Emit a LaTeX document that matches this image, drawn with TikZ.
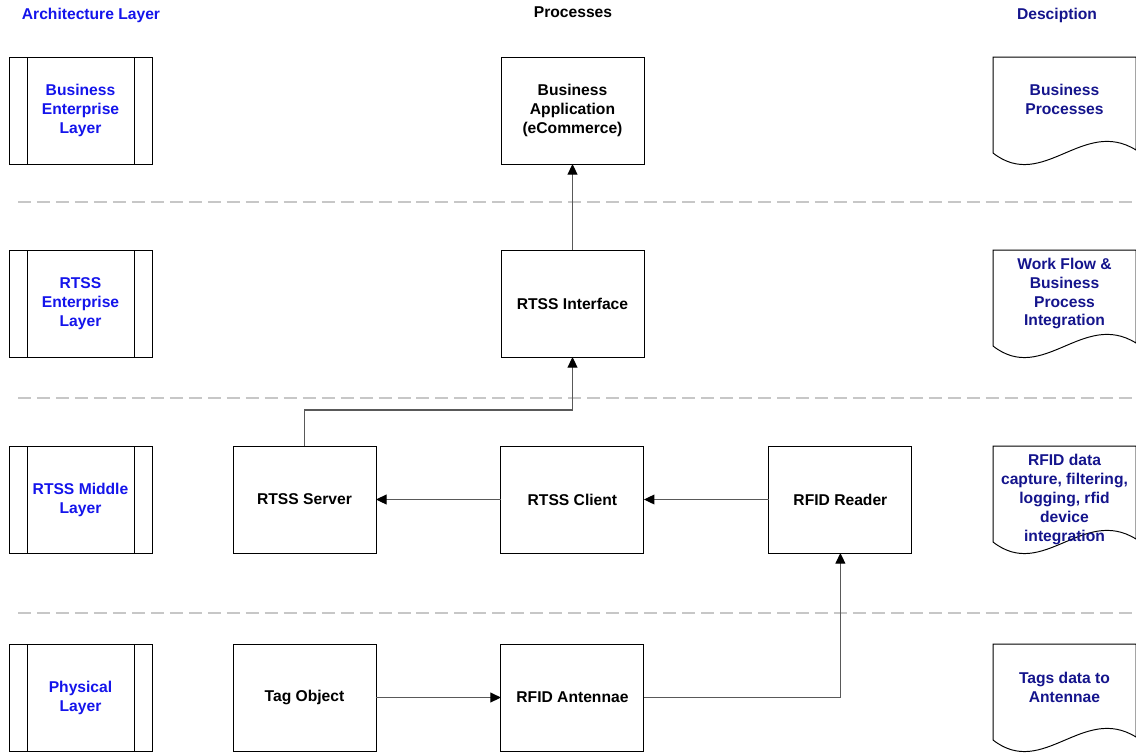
\documentclass[tikz,border=0pt]{standalone}
\usepackage{fontspec}
\setmainfont{Liberation Sans}
\usetikzlibrary{arrows.meta, positioning}
\definecolor{layerblue}{RGB}{20,20,235}
\definecolor{descnavy}{RGB}{20,20,140}
\tikzset{
  txt/.style={font=\fontsize{8.9}{10.8}\selectfont\bfseries},
  procbox/.style={rectangle,draw,line width=0.55pt,txt,align=center,inner sep=0pt,outer sep=0pt,minimum width=2.86cm,minimum height=2.14cm},
  layerbox/.style={procbox,text=layerblue},
  docbox/.style={rectangle,inner sep=0pt,outer sep=0pt,minimum width=2.86cm,minimum height=2.14cm},
  desctext/.style={txt,align=center,text=descnavy},
  heading/.style={txt},
  line/.style={-{Triangle[length=6pt,width=5.6pt,color=black]},draw=black!65,line width=0.6pt},
  layersep/.style={draw=black!22,line width=0.9pt,dash pattern=on 7.4pt off 3.4pt}
}

\begin{document}
\begin{tikzpicture}[x=0.02cm,y=-0.02cm,node distance=2.14cm and 2.5cm]
\useasboundingbox (0,0) rectangle (1136,755);
\clip (0,0) rectangle (1136,755);

% headings
\node[heading,text=layerblue] (hArch) at (91,15) {Architecture Layer};
\node[heading] (hProc) at (573,12) {Processes};
\node[heading,text=descnavy] (hDesc) at (1057,15) {Desciption};

% layer separators
\foreach \y in {202,398,613}
  \draw[layersep] (18,\y) -- (1136,\y);

% architecture layers
\node[layerbox] (lBus) at (80.5,110.5) {Business\\Enterprise\\Layer};
\node[layerbox] (lEnt) at (80.5,303.5) {RTSS\\Enterprise\\Layer};
\node[layerbox] (lMid) at (80.5,499.5) {RTSS Middle\\Layer};
\node[layerbox] (lPhy) at (80.5,697.5) {Physical\\Layer};
\foreach \n in {lBus,lEnt,lMid,lPhy} {
  \draw[line width=0.55pt] ([xshift=0.36cm]\n.north west) -- ([xshift=0.36cm]\n.south west);
  \draw[line width=0.55pt] ([xshift=-0.36cm]\n.north east) -- ([xshift=-0.36cm]\n.south east);
}

% processes
\node[procbox] (app) at (572.5,110.5) {Business\\Application\\(eCommerce)};
\node[procbox] (intf) at (572.5,303.5) {RTSS Interface};
\node[procbox] (srv) at (304.5,499.5) {RTSS Server};
\node[procbox, right=of srv] (cli) {RTSS Client};
\node[procbox, right=of cli] (rdr) {RFID Reader};
\node[procbox] (tag) at (304.5,697.5) {Tag Object};
\node[procbox, right=of tag] (ant) {RFID Antennae};

\draw[line] (intf) -- (app);
\draw[line] (srv.north) -- ++(0,-36) -| (intf.south);
\draw[line] (cli) -- (srv);
\draw[line] (rdr) -- (cli);
\draw[line] (tag) -- (ant);
\draw[line] (ant) -| (rdr);

% descriptions
\node[docbox] (dBus) at (1064.5,110.5) {};
\node[docbox] (dEnt) at (1064.5,303.5) {};
\node[docbox] (dMid) at (1064.5,499.5) {};
\node[docbox] (dPhy) at (1064.5,697.5) {};
\foreach \n in {dBus,dEnt,dMid,dPhy}
  \draw[line width=0.55pt] (\n.north east) -- (\n.north west) -- ++(0,96)
    .. controls +(50,39) and +(-53,-33) .. ++(143,-3) -- cycle;
\node[desctext] (tBus) at (1064.5,99.5) {Business\\Processes};
\node[desctext] (tEnt) at (1064.5,293.5) {Work Flow \&\\Business\\Process\\Integration};
\node[desctext] (tMid) at (1064.5,499.5) {RFID data\\capture, filtering,\\logging, rfid\\device\\integration};
\node[desctext] (tPhy) at (1064.5,687.5) {Tags data to\\Antennae};
\end{tikzpicture}
\end{document}
